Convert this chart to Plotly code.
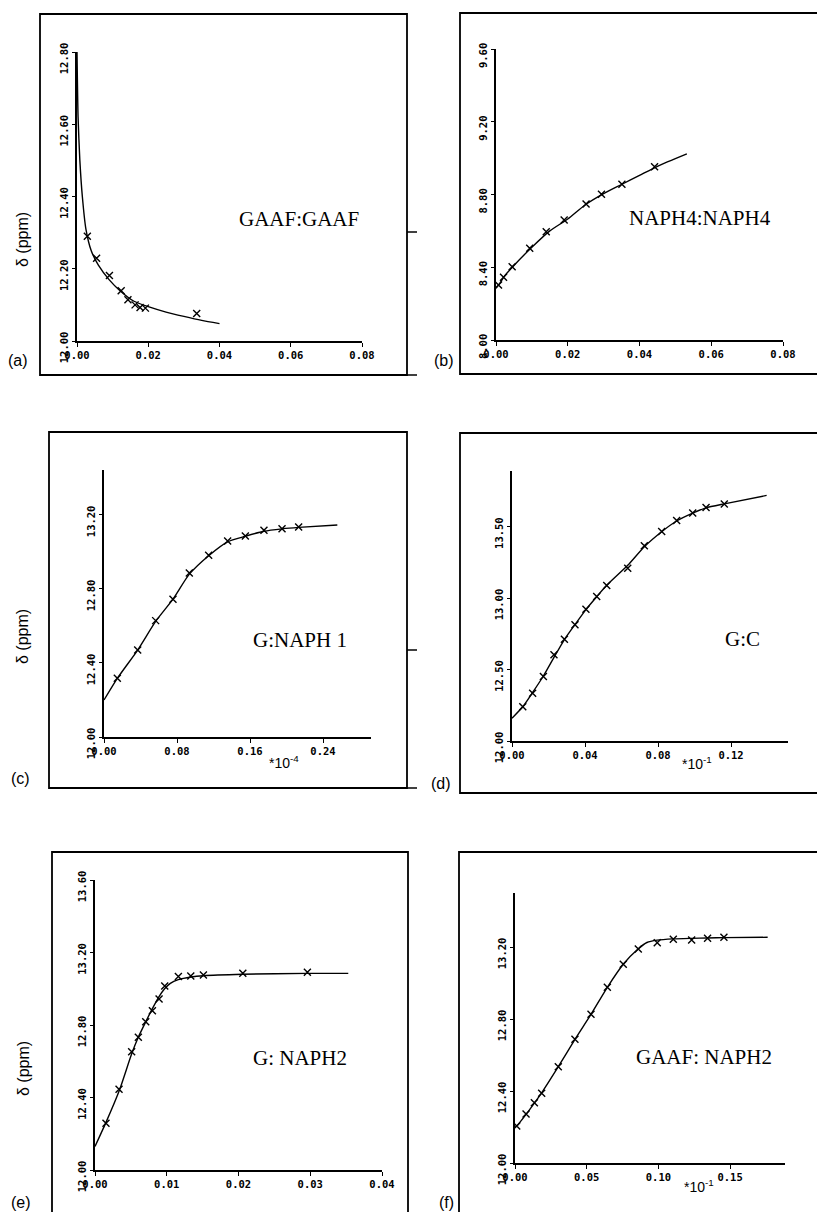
import plotly.graph_objects as go

W, H = 817, 1212

# ---------------- data ----------------
# (a) GAAF:GAAF
a_x = [0.0029, 0.0055, 0.0091, 0.0124, 0.0143, 0.0163, 0.0177, 0.0192, 0.0336]
a_y = [12.29, 12.229, 12.181, 12.139, 12.114, 12.100, 12.093, 12.091, 12.076]
a_fit_x = [0.0, 0.0003, 0.0008, 0.0015, 0.0025, 0.004, 0.006, 0.009, 0.012, 0.016, 0.02, 0.025, 0.03, 0.035, 0.04]
a_fit_y = [12.80, 12.62, 12.50, 12.40, 12.31, 12.25, 12.21, 12.17, 12.14, 12.11, 12.095, 12.08, 12.068, 12.057, 12.048]
a_xticks = [0.0, 0.02, 0.04, 0.06, 0.08]
a_yticks = [12.0, 12.2, 12.4, 12.6, 12.8]

# (b) NAPH4:NAPH4
b_x = [0.0007, 0.0021, 0.0045, 0.0094, 0.0140, 0.0190, 0.0251, 0.0294, 0.0351, 0.0442]
b_y = [8.302, 8.345, 8.403, 8.504, 8.595, 8.660, 8.748, 8.801, 8.856, 8.953]
b_fit_x = [0.0, 0.001, 0.0025, 0.005, 0.01, 0.015, 0.02, 0.025, 0.03, 0.035, 0.04, 0.045, 0.0532]
b_fit_y = [8.284, 8.31, 8.355, 8.41, 8.51, 8.60, 8.665, 8.745, 8.805, 8.855, 8.905, 8.955, 9.023]
b_xticks = [0.0, 0.02, 0.04, 0.06, 0.08]
b_yticks = [8.0, 8.4, 8.8, 9.2, 9.6]

# (c) G:NAPH 1
c_x = [0.0146, 0.0369, 0.0566, 0.0756, 0.0935, 0.1147, 0.1355, 0.1549, 0.1753, 0.1951, 0.2133]
c_y = [12.317, 12.470, 12.629, 12.744, 12.886, 12.982, 13.059, 13.086, 13.117, 13.126, 13.135]
c_fit_x = [0.0, 0.0146, 0.0369, 0.0566, 0.0756, 0.0935, 0.1147, 0.1355, 0.1549, 0.1753, 0.1951, 0.2133, 0.2557]
c_fit_y = [12.20, 12.317, 12.47, 12.625, 12.745, 12.88, 12.98, 13.055, 13.085, 13.112, 13.125, 13.133, 13.146]
c_xticks = [0.0, 0.08, 0.16, 0.24]
c_yticks = [12.0, 12.4, 12.8, 13.2]

# (d) G:C
d_x = [0.0059, 0.0113, 0.0172, 0.0230, 0.0287, 0.0345, 0.0405, 0.0464, 0.0519, 0.0634, 0.0725, 0.0820, 0.0902, 0.0990, 0.1063, 0.1163]
d_y = [12.240, 12.334, 12.451, 12.603, 12.713, 12.813, 12.923, 13.011, 13.088, 13.210, 13.366, 13.467, 13.544, 13.596, 13.635, 13.659]
d_fit_x = [0.0, 0.0059, 0.0113, 0.0172, 0.023, 0.0287, 0.0345, 0.0405, 0.0464, 0.0519, 0.0634, 0.0725, 0.082, 0.0902, 0.099, 0.1063, 0.1163, 0.1395]
d_fit_y = [12.16, 12.24, 12.34, 12.455, 12.585, 12.71, 12.815, 12.92, 13.01, 13.09, 13.23, 13.36, 13.465, 13.54, 13.595, 13.632, 13.66, 13.719]
d_xticks = [0.0, 0.04, 0.08, 0.12]
d_yticks = [12.0, 12.5, 13.0, 13.5]

# (e) G: NAPH2
e_x = [0.00153, 0.00335, 0.00511, 0.00604, 0.00707, 0.00800, 0.00893, 0.00972, 0.01162, 0.01335, 0.01511, 0.0206, 0.0296]
e_y = [12.258, 12.445, 12.653, 12.732, 12.818, 12.879, 12.943, 13.015, 13.067, 13.070, 13.076, 13.085, 13.091]
e_fit_x = [0.0, 0.0015, 0.0034, 0.0051, 0.006, 0.0071, 0.008, 0.0089, 0.0097, 0.0105, 0.0116, 0.0134, 0.0151, 0.0206, 0.0296, 0.0353]
e_fit_y = [12.13, 12.26, 12.44, 12.64, 12.73, 12.82, 12.89, 12.955, 13.00, 13.03, 13.05, 13.065, 13.072, 13.08, 13.085, 13.085]
e_xticks = [0.0, 0.01, 0.02, 0.03, 0.04]
e_yticks = [12.0, 12.4, 12.8, 13.2, 13.6]

# (f) GAAF: NAPH2
f_x = [0.0012, 0.0077, 0.0135, 0.0186, 0.0302, 0.0418, 0.0530, 0.0644, 0.0755, 0.0860, 0.0992, 0.1104, 0.1232, 0.1343, 0.1457]
f_y = [12.206, 12.272, 12.335, 12.387, 12.535, 12.687, 12.826, 12.976, 13.104, 13.189, 13.224, 13.243, 13.239, 13.248, 13.254]
f_fit_x = [0.0, 0.0012, 0.0077, 0.0135, 0.0186, 0.0302, 0.0418, 0.053, 0.0644, 0.0755, 0.086, 0.092, 0.0992, 0.1104, 0.1232, 0.1343, 0.1457, 0.1762]
f_fit_y = [12.198, 12.205, 12.27, 12.333, 12.39, 12.535, 12.687, 12.826, 12.976, 13.104, 13.19, 13.225, 13.238, 13.245, 13.248, 13.25, 13.252, 13.254]
f_xticks = [0.0, 0.05, 0.10, 0.15]
f_yticks = [12.0, 12.4, 12.8, 13.2]

titles = ["GAAF:GAAF", "NAPH4:NAPH4", "G:NAPH 1", "G:C", "G: NAPH2", "GAAF: NAPH2"]
letters = ["(a)", "(b)", "(c)", "(d)", "(e)", "(f)"]
y_label = "δ (ppm)"

# ---------------- layout geometry (pixels) ----------------
panels = [
    dict(px=a_x, py=a_y, fx=a_fit_x, fy=a_fit_y, xt=a_xticks, yt=a_yticks,
         xd=(77, 362), yd=(52, 341), xr=[0, 0.08], yr=[12.0, 12.8]),
    dict(px=b_x, py=b_y, fx=b_fit_x, fy=b_fit_y, xt=b_xticks, yt=b_yticks,
         xd=(496, 783), yd=(49, 340), xr=[0, 0.08], yr=[8.0, 9.6]),
    dict(px=c_x, py=c_y, fx=c_fit_x, fy=c_fit_y, xt=c_xticks, yt=c_yticks,
         xd=(104, 371), yd=(470, 737), xr=[0, 0.2926], yr=[12.0, 13.443]),
    dict(px=d_x, py=d_y, fx=d_fit_x, fy=d_fit_y, xt=d_xticks, yt=d_yticks,
         xd=(512, 788), yd=(471, 741), xr=[0, 0.1512], yr=[12.0, 13.89]),
    dict(px=e_x, py=e_y, fx=e_fit_x, fy=e_fit_y, xt=e_xticks, yt=e_yticks,
         xd=(95, 382), yd=(880, 1170), xr=[0, 0.04], yr=[12.0, 13.6]),
    dict(px=f_x, py=f_y, fx=f_fit_x, fy=f_fit_y, xt=f_xticks, yt=f_yticks,
         xd=(515, 785), yd=(893, 1163), xr=[0, 0.1883], yr=[12.0, 13.5]),
]

def fx(p):
    return p / W

def fy(p):
    return 1 - p / H

fig = go.Figure()
tickfont = dict(family="DejaVu Sans Mono", size=10.5, color="black", weight="bold")
layout = {}
for i, p in enumerate(panels, start=1):
    xa = "x" if i == 1 else f"x{i}"
    ya = "y" if i == 1 else f"y{i}"
    fig.add_trace(go.Scatter(x=p["fx"], y=p["fy"], mode="lines", xaxis=xa, yaxis=ya,
                             line=dict(color="black", width=1.4, shape="spline", smoothing=0.6),
                             showlegend=False, hoverinfo="skip"))
    fig.add_trace(go.Scatter(x=p["px"], y=p["py"], mode="markers", xaxis=xa, yaxis=ya,
                             marker=dict(symbol="x-thin", size=7, color="black",
                                         line=dict(color="black", width=1.4)),
                             showlegend=False))
    kx = "xaxis" if i == 1 else f"xaxis{i}"
    ky = "yaxis" if i == 1 else f"yaxis{i}"
    layout[kx] = dict(domain=[fx(p["xd"][0]), fx(p["xd"][1])], range=p["xr"], anchor=ya,
                      automargin=False,
                      showline=True, linecolor="black", linewidth=1.7, showgrid=False, zeroline=False,
                      ticks="outside", ticklen=4, tickwidth=1.3, tickcolor="black",
                      tickvals=p["xt"], tickformat=".2f", tickfont=tickfont)
    layout[ky] = dict(domain=[fy(p["yd"][1]), fy(p["yd"][0])], range=p["yr"], anchor=xa,
                      automargin=False,
                      showline=True, linecolor="black", linewidth=1.7, showgrid=False, zeroline=False,
                      ticks="outside", ticklen=3, tickwidth=1.3, tickcolor="black",
                      tickvals=p["yt"], tickformat=".2f", tickangle=-90, tickfont=tickfont,
                      ticklabelshift=8)

# outer frames of the six panels (pixel boxes)
frames = [(40, 14, 407, 375), (460, 13, 830, 374), (49, 432, 407, 788),
          (460, 433, 830, 793), (52, 852, 408, 1230), (459, 852, 830, 1230)]
shapes = []
for (x0, y0, x1, y1) in frames:
    shapes.append(dict(type="rect", xref="paper", yref="paper", x0=fx(x0), x1=fx(x1),
                       y0=fy(y1), y1=fy(y0), line=dict(color="black", width=1.8),
                       fillcolor="rgba(0,0,0,0)", layer="below"))
# small stubs on the right edges of left column frames
for yy in (232, 650, 375, 788):
    shapes.append(dict(type="line", xref="paper", yref="paper", x0=fx(407), x1=fx(417),
                       y0=fy(yy), y1=fy(yy), line=dict(color="black", width=1.5)))

annotations = []
title_pos = [(299, 219), (700, 218), (300, 640), (742, 639), (300, 1058), (704, 1057)]
for t, (x, y) in zip(titles, title_pos):
    annotations.append(dict(text=t, x=fx(x), y=fy(y), xref="paper", yref="paper",
                            showarrow=False, xanchor="center", yanchor="middle",
                            font=dict(family="Liberation Serif", size=21, color="black")))
letter_pos = [(18, 361), (444, 361), (20, 778), (441, 783), (21, 1202), (446, 1202)]
for t, (x, y) in zip(letters, letter_pos):
    annotations.append(dict(text=t, x=fx(x), y=fy(y), xref="paper", yref="paper",
                            showarrow=False, xanchor="center", yanchor="middle",
                            font=dict(family="Liberation Sans", size=16, color="black")))
for y in (240, 637, 1069):
    annotations.append(dict(text=y_label, x=fx(23), y=fy(y), xref="paper", yref="paper",
                            showarrow=False, textangle=-90, xanchor="center", yanchor="middle",
                            font=dict(family="Liberation Sans", size=16, color="black")))
exp_labels = [("*10<sup>-4</sup>", 284, 762), ("*10<sup>-1</sup>", 697, 763), ("*10<sup>-1</sup>", 699, 1186)]
for t, x, y in exp_labels:
    annotations.append(dict(text=t, x=fx(x), y=fy(y), xref="paper", yref="paper",
                            showarrow=False, xanchor="center", yanchor="middle",
                            font=dict(family="Liberation Sans", size=14, color="black")))

fig.update_layout(template="none", width=W, height=H, margin=dict(l=0, r=0, t=0, b=0, pad=0),
                  autosize=False, paper_bgcolor="white", plot_bgcolor="white",
                  shapes=shapes, annotations=annotations, **layout)

fig.write_html("out.html", config={"displayModeBar": False},
               post_script="document.body.style.margin='0px';document.body.style.padding='0px';")
